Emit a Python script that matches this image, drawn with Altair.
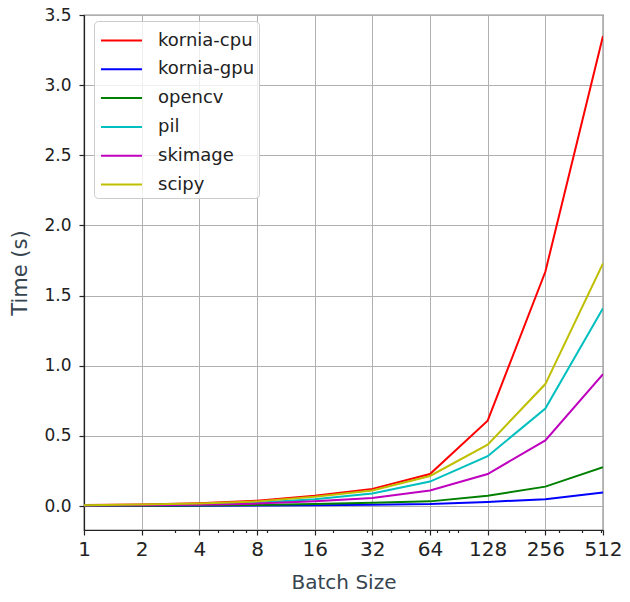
import altair as alt
import pandas as pd

batch_sizes = [1, 2, 4, 8, 16, 32, 64, 128, 256, 512]
kornia_cpu = [0.008, 0.012, 0.021, 0.039, 0.074, 0.123, 0.229, 0.609, 1.67, 3.35]
kornia_gpu = [0.001, 0.001, 0.002, 0.004, 0.006, 0.010, 0.015, 0.030, 0.050, 0.097]
opencv = [0.002, 0.003, 0.005, 0.009, 0.016, 0.025, 0.034, 0.074, 0.139, 0.277]
pil = [0.006, 0.009, 0.014, 0.025, 0.050, 0.090, 0.175, 0.356, 0.695, 1.41]
skimage = [0.004, 0.006, 0.010, 0.018, 0.034, 0.058, 0.111, 0.229, 0.468, 0.94]
scipy = [0.007, 0.011, 0.019, 0.034, 0.067, 0.111, 0.215, 0.438, 0.870, 1.73]

series_names = ["kornia-cpu", "kornia-gpu", "opencv", "pil", "skimage", "scipy"]
series_values = [kornia_cpu, kornia_gpu, opencv, pil, skimage, scipy]
series_colors = ["#ff0000", "#0000ff", "#008000", "#00bfbf", "#bf00bf", "#bfbf00"]

minor_ticks = [3, 5, 6, 7, 9, 20, 30, 40, 50, 60, 70, 80, 90, 200, 300, 400, 500]
y_ticks = [0.0, 0.5, 1.0, 1.5, 2.0, 2.5, 3.0, 3.5]
y_domain = [-0.17, 3.5]

rows = []
for name, vals in zip(series_names, series_values):
    for b, v in zip(batch_sizes, vals):
        rows.append({"Batch Size": b, "Time": v, "series": name})
df = pd.DataFrame(rows)

major_list = "[" + ",".join(str(b) for b in batch_sizes) + "]"
is_major = f"indexof({major_list}, datum.value) >= 0"

FONT = "DejaVu Sans"
TITLE_COLOR = "#36454f"

x_axis = alt.Axis(
    values=batch_sizes + minor_ticks,
    labelExpr=f"{is_major} ? '' + datum.value : ''",
    labelFlush=False,
    labelOverlap=False,
    labelFontSize=20,
    labelFont=FONT,
    labelColor="#222222",
    labelPadding=4,
    tickSize={"condition": {"test": is_major, "value": 5}, "value": 2.5},
    gridOpacity={"condition": {"test": is_major, "value": 1}, "value": 0},
    title="Batch Size",
    titleFontSize=20,
    titleFont=FONT,
    titleFontWeight="normal",
    titleColor=TITLE_COLOR,
    titlePadding=13,
)

y_axis = alt.Axis(
    values=y_ticks,
    format=".1f",
    labelFontSize=17,
    labelFont=FONT,
    labelColor="#222222",
    labelPadding=8,
    tickSize=5,
    title="Time (s)",
    titleFontSize=21,
    titleFont=FONT,
    titleFontWeight="normal",
    titleColor=TITLE_COLOR,
    titlePadding=13,
)

legend = alt.Legend(
    title=None,
    orient="none",
    legendX=10,
    legendY=6,
    symbolType="M-1.45,0H1.45",
    symbolSize=800,
    symbolStrokeWidth=2,
    symbolOffset=8,
    labelOffset=21,
    labelFontSize=18,
    labelFont=FONT,
    labelColor="#222222",
    rowPadding=3.8,
    padding=4,
    fillColor="rgba(255,255,255,0.8)",
    strokeColor="#cccccc",
    cornerRadius=4,
)

chart = (
    alt.Chart(df)
    .mark_line(strokeWidth=2, clip=True)
    .encode(
        x=alt.X("Batch Size:Q", scale=alt.Scale(type="log", base=2, domain=[1, 512], nice=False), axis=x_axis),
        y=alt.Y("Time:Q", scale=alt.Scale(domain=y_domain, nice=False, zero=False), axis=y_axis),
        color=alt.Color("series:N", scale=alt.Scale(domain=series_names, range=series_colors), legend=legend),
    )
    .properties(
        width=519,
        height=515,
        autosize=alt.AutoSizeParams(type="none"),
        padding={"left": 76, "top": 7, "right": 19, "bottom": 64},
    )
    .configure_view(stroke="#222222", strokeWidth=1.2)
    .configure_axis(
        domainColor="#222222",
        domainWidth=1.2,
        tickColor="#222222",
        tickWidth=1.2,
        gridColor="#b0b0b0",
        gridWidth=1,
    )
)

chart.save("out.html", embed_options={"renderer": "svg", "actions": False})
